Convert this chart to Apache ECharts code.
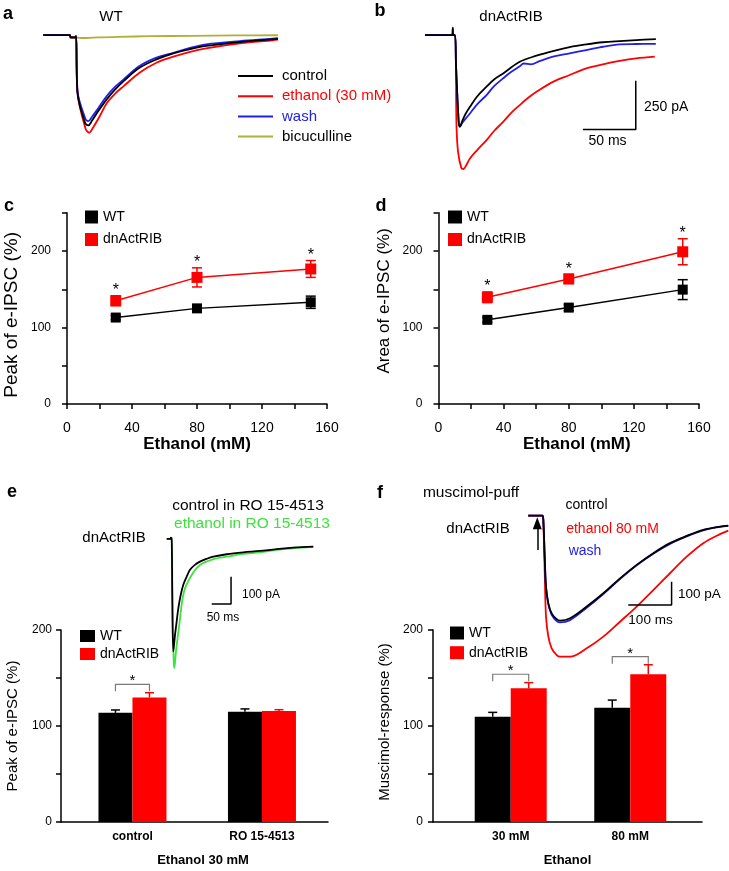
<!DOCTYPE html>
<html><head><meta charset="utf-8">
<script src="https://cdn.jsdelivr.net/npm/echarts@6/dist/echarts.min.js"></script>
<style>html,body{margin:0;padding:0;background:#fff}#c{width:729px;height:871px}</style>
</head><body><div id="c"></div>
<script>
const FONT = '"Liberation Sans", Arial, sans-serif';
const RED = '#ff0000', BLUE = '#2121e6', OLIVE = '#b0b035', GREEN = '#3ee23e', BLACK = '#000000';

// ---------- Panel a (WT) traces: [time (ms), current (pA)] ----------
const aControl = [[-31,0],[-6,0],[-5,-12],[-1,-12],[0,-5],[1.2,-290],[8.5,-450],[11.6,-463],[15,-440],[21,-390],[29,-330],[37,-279],[45,-236],[60,-168],[76,-125],[92,-94],[107,-73],[123,-56],[155,-36],[186,-22],[191,-20]];
const aEthanol = [[-31,0],[-6,0],[-5,-12],[-1,-12],[0,-5],[1.5,-300],[9,-480],[12.5,-501],[16,-475],[22,-420],[29,-350],[37,-300],[45,-262],[60,-193],[76,-142],[92,-111],[107,-87],[123,-68],[155,-43],[186,-27],[191,-24]];
const aWash = [[-31,0],[-6,0],[-5,-12],[-1,-12],[0,-5],[1.2,-280],[8.5,-425],[11.6,-441],[15,-420],[21,-375],[29,-313],[37,-265],[45,-227],[60,-159],[76,-116],[92,-91],[107,-67],[123,-48],[155,-31],[186,-19],[191,-16]];
const aBicuculline = [[-31,0],[-6,0],[-5,-15],[-1,-15],[0,-12],[3,-14],[10,-15],[20,-12],[40,-9],[70,-6],[110,-4],[150,-2],[191,-1]];

// ---------- Panel b (dnActRIB) traces ----------
const bControl = [[-28.3,0],[-3,0],[-2,38],[-1.5,0],[0,0],[1,-150],[3.5,-440],[4.7,-470],[7,-440],[10,-405],[14.2,-368],[21,-315],[29.9,-265],[37,-228],[45.6,-197],[61.3,-137],[77.1,-106],[92.7,-82],[108.5,-62],[124.2,-48],[140,-37],[155.7,-31],[171.4,-26],[190,-21]];
const bWash = [[-28.3,0],[-3,0],[0,0],[1,-150],[3.5,-440],[4.7,-470],[7,-450],[10,-430],[14.2,-402],[21,-355],[29.9,-308],[37,-262],[45.6,-222],[53,-190],[61.3,-160],[65,-146],[72,-150],[80,-134],[92.7,-111],[108.5,-94],[124.2,-77],[140,-60],[155.7,-48],[171.4,-46],[190,-45]];
const bEthanol = [[-28.3,0],[-3,0],[0,0],[1.5,-470],[3,-600],[6,-680],[8,-687],[11,-665],[14.2,-633],[21,-590],[29.9,-539],[37,-492],[45.6,-445],[53,-400],[61.3,-359],[69,-323],[77.1,-291],[92.7,-240],[108.5,-205],[124.2,-171],[140,-150],[155.7,-133],[171.4,-120],[189,-111]];
const bScaleBar = [[121,-484],[171,-484],[171,-234]]; // 50 ms, 250 pA

// ---------- Panels c, d ----------
const ethanolConc = [30, 80, 150];
const cPeakWT = [113, 125, 133], cPeakWTErr = [3, 3, 8];
const cPeakDn = [135, 165.5, 176.5], cPeakDnErr = [6.5, 12.5, 11];
const cSig = [1, 1, 1];
const dAreaWT = [110, 126, 149.5], dAreaWTErr = [3, 4, 13];
const dAreaDn = [139.5, 163.5, 199], dAreaDnErr = [7, 6, 17];
const dSig = [1, 1, 1];

// ---------- Panel e ----------
const eCategories = ['control', 'RO 15-4513'];
const eWT = [113.7, 114.8], eWTErr = [3, 3];
const eDn = [129.7, 115.5], eDnErr = [5, 1.5];
const eBracket = [143.4, null];
const eControlTrace = [[-12.9,0],[-4,0],[-2,5],[0,0],[1.5,-200],[4.1,-412],[8.6,-351],[12.9,-302],[17.1,-254],[23.3,-205],[30,-168],[38.8,-138],[47.3,-113],[60,-95],[73.1,-83],[90,-73],[107.5,-65],[142,-56],[185,-49],[228,-44],[271,-37],[314,-32],[366,-28]];
const eEthanolTrace = [[-12.9,0],[-4,0],[0,0],[2,-250],[5,-440],[6.7,-473],[11.1,-412],[19.6,-315],[31.8,-193],[51.7,-132],[73.1,-95],[107.5,-74],[142,-65],[185,-55],[228,-49],[271,-40],[314,-34],[366,-29]];
const eScaleBar = [[103.4,-238],[153.4,-238],[153.4,-138]]; // 50 ms, 100 pA

// ---------- Panel f ----------
const fCategories = ['30 mM', '80 mM'];
const fWT = [109.7, 119], fWTErr = [4.5, 8];
const fDn = [139.2, 153.8], fDnErr = [6, 10];
const fBracket = [153.9, 172.2];
const fControlTrace = [[-34,0],[-1,0],[1,-30],[4,-180],[6.9,-305],[12.3,-376],[20,-419],[31.6,-444],[39.3,-450],[62.4,-440],[100.9,-390],[139.3,-333],[177.8,-269],[216.4,-211],[254.7,-161],[293.3,-118],[331.9,-87],[370.2,-61],[408.8,-47],[428,-43]];
const fWashTrace = [[-34,0],[-1,0],[1,-30],[4,-180],[6.9,-305],[12.3,-380],[20,-425],[31.6,-452],[39.3,-458],[62.4,-448],[100.9,-395],[139.3,-336],[177.8,-272],[216.4,-213],[254.7,-163],[293.3,-121],[331.9,-89],[370.2,-63],[408.8,-48],[428,-44]];
const fEthanolTrace = [[-34,0],[-1,0],[1,-40],[4,-250],[6.9,-433],[12.3,-519],[20,-569],[31.6,-598],[39.3,-605],[62.4,-605],[100.9,-569],[139.3,-519],[177.8,-455],[216.4,-390],[254.7,-319],[293.3,-247],[331.9,-176],[370.2,-118],[408.8,-79],[428,-64]];
const fScaleBar = [[197,-383],[297,-383],[297,-283]]; // 100 ms, 100 pA
const fPuffArrow = [[-13.2,-147],[-13.2,-33]];

// ================= helpers =================
const axLine = {onZero:false, lineStyle:{color:BLACK, width:1.5}};
const axTick = {inside:false, length:5, lineStyle:{color:BLACK, width:1.5}};
function hiddenAxes(i, xmin, xmax, ymin, ymax) {
  return [
    {type:'value', gridIndex:i, min:xmin, max:xmax, show:false},
    {type:'value', gridIndex:i, min:ymin, max:ymax, show:false}
  ];
}
function trace(name, data, color, gi, z) {
  return {type:'line', name, xAxisIndex:gi, yAxisIndex:gi, data, symbol:'none', showSymbol:false,
    smooth:0.35, lineStyle:{color, width:1.8}, itemStyle:{color}, silent:true, z:z||2, animation:false};
}
function scaleBar(data, gi) {
  return {type:'line', xAxisIndex:gi, yAxisIndex:gi, data, symbol:'none', lineStyle:{color:BLACK, width:1.5}, silent:true, animation:false};
}
function errRender(color) {
  return function(params, api) {
    const x = api.value(0), m = api.value(1), e = api.value(2), sig = api.value(3);
    const t = api.coord([x, m + e]), b = api.coord([x, m - e]);
    const st = {stroke: color, lineWidth: 1.5};
    const ch = [
      {type:'line', shape:{x1:t[0], y1:t[1], x2:b[0], y2:b[1]}, style:st},
      {type:'line', shape:{x1:t[0]-5, y1:t[1], x2:t[0]+5, y2:t[1]}, style:st},
      {type:'line', shape:{x1:b[0]-5, y1:b[1], x2:b[0]+5, y2:b[1]}, style:st}
    ];
    if (sig) ch.push({type:'text', x:t[0], y:t[1]-5, style:{text:'*', fill:BLACK, fontSize:16, fontFamily:FONT,
      textAlign:'center', textVerticalAlign:'middle', align:'center', verticalAlign:'middle'}});
    return {type:'group', children:ch};
  };
}
function errSeries(gi, xs, mean, err, sig, color) {
  return {type:'custom', xAxisIndex:gi, yAxisIndex:gi, encode:{x:0, y:1}, silent:true, z:5,
    data: xs.map((x, i) => [x, mean[i], err[i], sig ? sig[i] : 0]), renderItem: errRender(color)};
}
function barErrSeries(gi, mean, err, color, offset) {
  return {type:'custom', xAxisIndex:gi, yAxisIndex:gi, encode:{x:0, y:1}, silent:true, z:5,
    data: mean.map((m, i) => [i, m, err[i]]),
    renderItem: function(params, api) {
      const i = api.value(0), m = api.value(1), e = api.value(2);
      const t = api.coord([i, m + e]), b = api.coord([i, m]);
      const x = t[0] + offset;
      const st = {stroke: color, lineWidth: 1.5};
      return {type:'group', children:[
        {type:'line', shape:{x1:x, y1:t[1], x2:x, y2:b[1]}, style:st},
        {type:'line', shape:{x1:x-4.5, y1:t[1], x2:x+4.5, y2:t[1]}, style:st}
      ]};
    }};
}
function bracketSeries(gi, levels, half) {
  return {type:'custom', xAxisIndex:gi, yAxisIndex:gi, encode:{x:0, y:1}, silent:true, z:5,
    data: levels.map((l, i) => [i, l]).filter(d => d[1] != null),
    renderItem: function(params, api) {
      const p = api.coord([api.value(0), api.value(1)]);
      const x1 = p[0] - half, x2 = p[0] + half, y = p[1];
      return {type:'group', children:[
        {type:'polyline', shape:{points:[[x1, y+7], [x1, y], [x2, y], [x2, y+7]]}, style:{stroke:'#7a7a7a', lineWidth:1.2, fill:null}},
        {type:'text', x:p[0], y:y-3, style:{text:'*', fill:BLACK, fontSize:15, fontFamily:FONT,
          textAlign:'center', textVerticalAlign:'middle', align:'center', verticalAlign:'middle'}}
      ]};
    }};
}
function T(text, x, y, size, o) {
  o = o || {};
  const al = o.align || 'center';
  return {type:'text', x, y, silent:true, style:{text, fill:o.color || BLACK, fontSize:size, fontFamily:FONT,
    fontWeight:o.bold ? 'bold' : 'normal', textAlign:al, textVerticalAlign:'middle', align:al, verticalAlign:'middle'}};
}
const lineAxisX = (gi) => ({type:'value', gridIndex:gi, min:0, max:160, interval:20,
  axisLine:axLine, axisTick:axTick, splitLine:{show:false},
  axisLabel:{color:BLACK, fontSize:14, fontFamily:FONT, margin:17, formatter: v => (v % 40 === 0 ? String(v) : '')},
  name:'Ethanol (mM)', nameLocation:'middle', nameGap:27,
  nameTextStyle:{color:BLACK, fontSize:17, fontWeight:'bold', fontFamily:FONT, padding: gi === 3 ? [0,0,0,16] : 0}});
const pctAxisY = (gi, max, name, nameSize, nameGap, pad, lblMargin) => ({type:'value', gridIndex:gi, min:0, max, interval:50,
  axisLine:{show:true, ...axLine}, axisTick:{show:true, ...axTick}, splitLine:{show:false},
  axisLabel:{color:BLACK, fontSize:12, fontFamily:FONT, margin:lblMargin, formatter: v => (v % 100 === 0 ? String(v) : '')},
  name, nameLocation:'middle', nameGap, nameRotate:90,
  nameTextStyle:{color:BLACK, fontSize:nameSize, fontFamily:FONT, padding:pad}});
const catAxisX = (gi, cats, min, max, title, pad) => ({type:'value', gridIndex:gi, min, max,
  axisLine:axLine, axisTick:{show:false}, splitLine:{show:false},
  axisLabel:{color:BLACK, fontSize:12, fontWeight:'bold', fontFamily:FONT, margin:9, customValues:[0, 1],
    formatter: v => (Number.isInteger(v) && cats[v] !== undefined ? cats[v] : '')},
  name:title, nameLocation:'middle', nameGap:32,
  nameTextStyle:{color:BLACK, fontSize:13, fontWeight:'bold', fontFamily:FONT, padding:pad}});

const zip = (xs, ys) => xs.map((x, i) => [x, ys[i]]);

const option = {
  animation:false,
  backgroundColor:'#ffffff',
  textStyle:{fontFamily:FONT},
  grid:[
    {left:43.3, top:25.3, width:234.7, height:156, outerBoundsMode:'none'},
    {left:425, top:25.3, width:231.5, height:156, outerBoundsMode:'none'},
    {left:67, top:212.75, width:260, height:191.25, outerBoundsMode:'none'},
    {left:438.5, top:212.75, width:260.5, height:191.25, outerBoundsMode:'none'},
    {left:166.7, top:533.5, width:146.6, height:142, outerBoundsMode:'none'},
    {left:61, top:630, width:267, height:192, outerBoundsMode:'none'},
    {left:528.3, top:511, width:200, height:156.2, outerBoundsMode:'none'},
    {left:433, top:630, width:269, height:192, outerBoundsMode:'none'}
  ],
  xAxis:[], yAxis:[],
  legend:[
    {left:238, top:68.5, orient:'vertical', padding:0, itemGap:5.2, itemWidth:35, itemHeight:2, icon:'rect', selectedMode:false,
      textStyle:{fontSize:15, fontFamily:FONT, padding:[0,0,0,4]},
      data:[{name:'control', textStyle:{color:BLACK}}, {name:'ethanol (30 mM)', textStyle:{color:RED}},
            {name:'wash', textStyle:{color:BLUE}}, {name:'bicuculline', textStyle:{color:BLACK}}]},
    {left:85, top:210, orient:'vertical', padding:0, itemGap:8.5, itemWidth:13, itemHeight:13, icon:'rect', selectedMode:false,
      textStyle:{fontSize:14, color:BLACK, fontFamily:FONT}, data:['WT', 'dnActRIB']},
    {left:448, top:210, orient:'vertical', padding:0, itemGap:8.5, itemWidth:14, itemHeight:13, icon:'rect', selectedMode:false,
      textStyle:{fontSize:14, color:BLACK, fontFamily:FONT}, data:['WT', 'dnActRIB']},
    {left:80, top:629, orient:'vertical', padding:0, itemGap:4, itemWidth:15, itemHeight:12, icon:'rect', selectedMode:false,
      textStyle:{fontSize:14, color:BLACK, fontFamily:FONT}, data:['WT', 'dnActRIB']},
    {left:450, top:626, orient:'vertical', padding:0, itemGap:5.7, itemWidth:14, itemHeight:13, icon:'rect', selectedMode:false,
      textStyle:{fontSize:14, color:BLACK, fontFamily:FONT}, data:['WT', 'dnActRIB']}
  ],
  graphic:{elements:[
    T('a', 8, 14, 18, {bold:true}), T('WT', 111, 17, 15),
    T('b', 380, 11, 18, {bold:true}), T('dnActRIB', 511, 17, 15),
    T('250 pA', 644, 107.5, 14, {align:'left'}), T('50 ms', 607.5, 141, 14),
    T('c', 9, 206, 18, {bold:true}), T('d', 381, 206, 18, {bold:true}),
    T('e', 12, 492, 18, {bold:true}),
    T('control in RO 15-4513', 248, 506, 15.5), T('ethanol in RO 15-4513', 252, 524, 15.5, {color:GREEN}),
    T('dnActRIB', 114, 538, 15), T('100 pA', 242, 595, 12, {align:'left'}), T('50 ms', 223, 617.5, 12),
    T('f', 380, 493, 18, {bold:true}),
    T('muscimol-puff', 471, 493, 15.5), T('dnActRIB', 478, 529, 15),
    T('control', 586.5, 505, 14), T('ethanol 80 mM', 612.5, 529, 14, {color:RED}), T('wash', 585, 551, 14, {color:BLUE}),
    T('100 pA', 678, 594, 13.5, {align:'left'}), T('100 ms', 650.5, 620, 13.5)
  ]},
  series:[]
};

// axes: index i belongs to grid i
const ax = [];
ax.push(hiddenAxes(0, -31, 191, -750, 50));
ax.push(hiddenAxes(1, -28.3, 190.6, -750, 50));
ax.push([lineAxisX(2), pctAxisY(2, 250, 'Peak of e-IPSC (%)', 19, 46, [0,13,0,0], 16)]);
ax.push([lineAxisX(3), pctAxisY(3, 250, 'Area of e-IPSC (%)', 17, 46, [0,0,0,15], 16)]);
ax.push(hiddenAxes(4, -12.9, 366, -500, 20));
ax.push([catAxisX(5, eCategories, -0.552, 1.51, 'Ethanol 30 mM', [0,0,0,17]), pctAxisY(5, 200, 'Peak of e-IPSC (%)', 15, 41, 0, 9)]);
ax.push(hiddenAxes(6, -34, 428, -650, 20));
ax.push([catAxisX(7, fCategories, -0.65, 1.6, 'Ethanol', 0), pctAxisY(7, 200, 'Muscimol-response (%)', 15, 41, [0,0,0,8], 10)]);
ax.forEach(p => { option.xAxis.push(p[0]); option.yAxis.push(p[1]); });

const S = option.series;
// a
S.push(trace('bicuculline', aBicuculline, OLIVE, 0, 2));
S.push(trace('ethanol (30 mM)', aEthanol, RED, 0, 3));
S.push(trace('wash', aWash, BLUE, 0, 4));
S.push(trace('control', aControl, BLACK, 0, 5));
// b
S.push(trace('ethanol (30 mM)', bEthanol, RED, 1, 3));
S.push(trace('wash', bWash, BLUE, 1, 4));
S.push(trace('control', bControl, BLACK, 1, 5));
S.push(scaleBar(bScaleBar, 1));
// c
S.push({type:'line', name:'WT', xAxisIndex:2, yAxisIndex:2, data:zip(ethanolConc, cPeakWT), symbol:'rect', symbolSize:10,
  lineStyle:{color:BLACK, width:1.5}, itemStyle:{color:BLACK}, z:6});
S.push({type:'line', name:'dnActRIB', xAxisIndex:2, yAxisIndex:2, data:zip(ethanolConc, cPeakDn), symbol:'rect', symbolSize:11,
  lineStyle:{color:RED, width:1.5}, itemStyle:{color:RED}, z:6});
S.push(errSeries(2, ethanolConc, cPeakWT, cPeakWTErr, null, BLACK));
S.push(errSeries(2, ethanolConc, cPeakDn, cPeakDnErr, cSig, RED));
// d
S.push({type:'line', name:'WT', xAxisIndex:3, yAxisIndex:3, data:zip(ethanolConc, dAreaWT), symbol:'rect', symbolSize:10,
  lineStyle:{color:BLACK, width:1.5}, itemStyle:{color:BLACK}, z:6});
S.push({type:'line', name:'dnActRIB', xAxisIndex:3, yAxisIndex:3, data:zip(ethanolConc, dAreaDn), symbol:'rect', symbolSize:11,
  lineStyle:{color:RED, width:1.5}, itemStyle:{color:RED}, z:6});
S.push(errSeries(3, ethanolConc, dAreaWT, dAreaWTErr, null, BLACK));
S.push(errSeries(3, ethanolConc, dAreaDn, dAreaDnErr, dSig, RED));
// e inset
S.push(trace('ethanol in RO 15-4513', eEthanolTrace, GREEN, 4, 3));
S.push(trace('control in RO 15-4513', eControlTrace, BLACK, 4, 4));
S.push(scaleBar(eScaleBar, 4));
// e bars
const EBW = 34;
S.push({type:'bar', name:'WT', xAxisIndex:5, yAxisIndex:5, data:eWT.map((v, i) => [i, v]), barWidth:EBW, barGap:'0%', itemStyle:{color:BLACK}, z:2});
S.push({type:'bar', name:'dnActRIB', xAxisIndex:5, yAxisIndex:5, data:eDn.map((v, i) => [i, v]), barWidth:EBW, barGap:'0%', itemStyle:{color:RED}, z:2});
S.push(barErrSeries(5, eWT, eWTErr, BLACK, -EBW / 2));
S.push(barErrSeries(5, eDn, eDnErr, RED, EBW / 2));
S.push(bracketSeries(5, eBracket, EBW / 2));
// f inset
S.push(trace('ethanol 80 mM', fEthanolTrace, RED, 6, 3));
S.push(trace('wash', fWashTrace, BLUE, 6, 4));
const fc = trace('control', fControlTrace, BLACK, 6, 5);
fc.markLine = {silent:true, symbol:['none', 'triangle'], symbolSize:[9, 12], label:{show:false},
  lineStyle:{color:BLACK, width:1.5, type:'solid'}, data:[[{coord:fPuffArrow[0]}, {coord:fPuffArrow[1]}]]};
S.push(fc);
S.push(scaleBar(fScaleBar, 6));
// f bars
const FBW = 36;
S.push({type:'bar', name:'WT', xAxisIndex:7, yAxisIndex:7, data:fWT.map((v, i) => [i, v]), barWidth:FBW, barGap:'0%', itemStyle:{color:BLACK}, z:2});
S.push({type:'bar', name:'dnActRIB', xAxisIndex:7, yAxisIndex:7, data:fDn.map((v, i) => [i, v]), barWidth:FBW, barGap:'0%', itemStyle:{color:RED}, z:2});
S.push(barErrSeries(7, fWT, fWTErr, BLACK, -FBW / 2));
S.push(barErrSeries(7, fDn, fDnErr, RED, FBW / 2));
S.push(bracketSeries(7, fBracket, FBW / 2));

const chart = echarts.init(document.getElementById('c'));
chart.setOption(option);
</script>
</body></html>
